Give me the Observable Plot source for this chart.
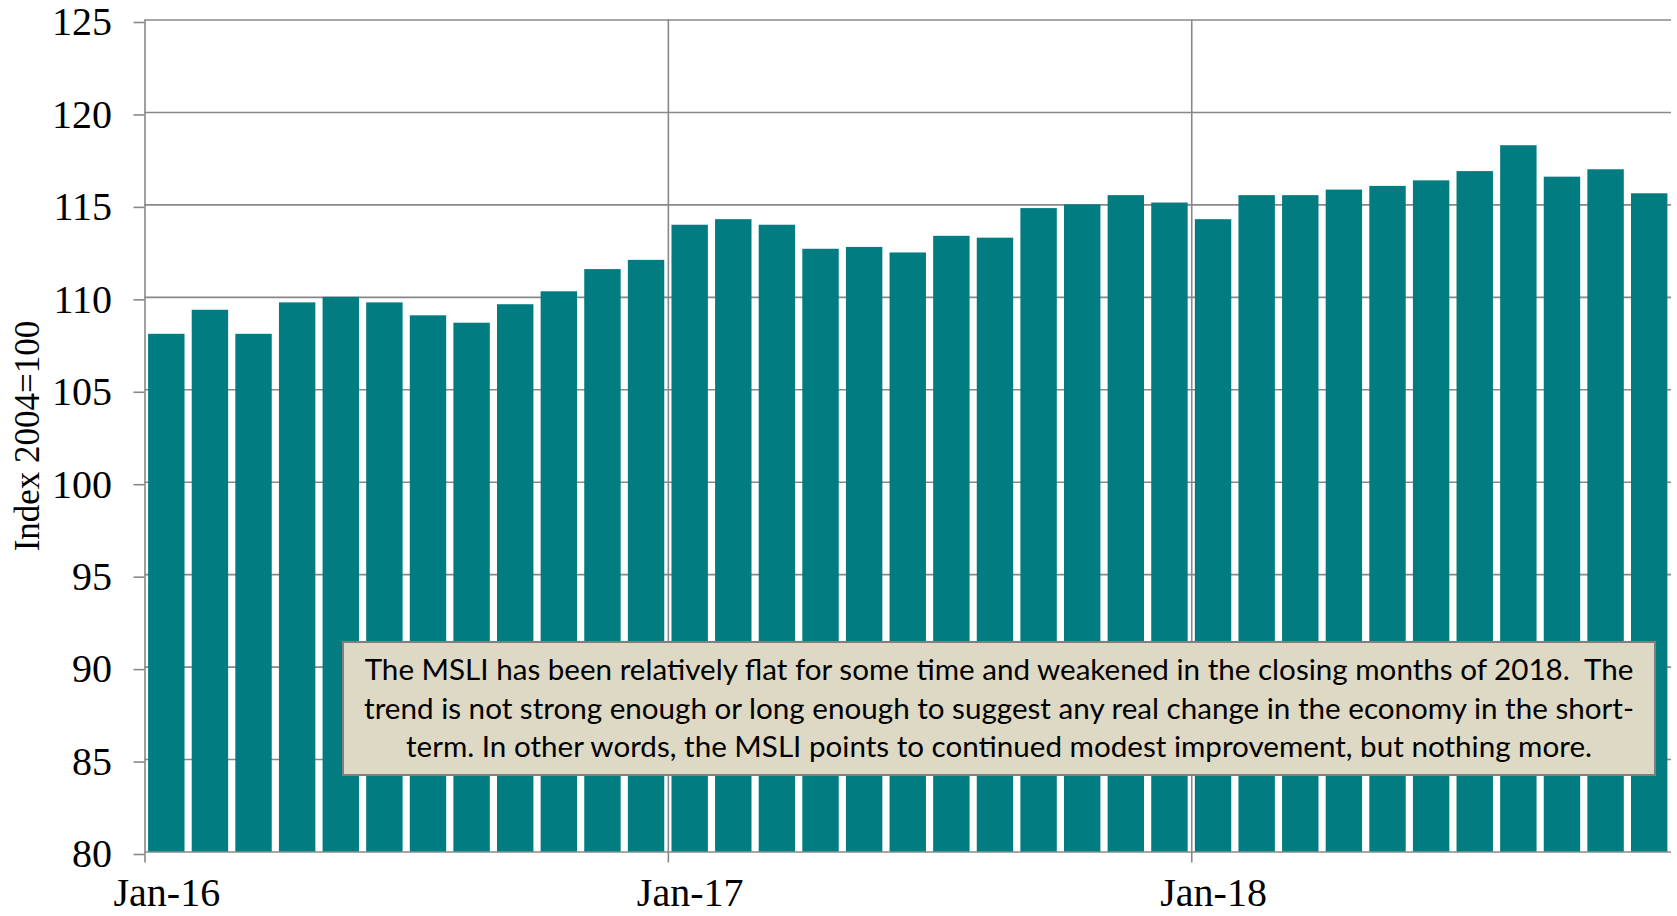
<!DOCTYPE html>
<html>
<head>
<meta charset="utf-8">
<script src="https://cdn.jsdelivr.net/npm/d3@7"></script>
<script src="https://cdn.jsdelivr.net/npm/@observablehq/plot@0.6"></script>
<style>
  html, body { margin: 0; padding: 0; background: #fff; }
  #wrap { position: relative; width: 1677px; height: 916px; overflow: hidden; }
  #note {
    position: absolute; left: 342px; top: 641px; width: 1314px; height: 135px;
    box-sizing: border-box; border: 2px solid #7f7f7f; background: #ddd9c4;
    font-family: Lato, "Noto Sans", sans-serif; font-size: 29.6px; line-height: 38.5px;
    color: #000; text-align: center; padding-top: 7px; white-space: nowrap;
  }
</style>
</head>
<body>
<div id="wrap"></div>
<script>
const months = [
  "Jan-16","Feb-16","Mar-16","Apr-16","May-16","Jun-16","Jul-16","Aug-16","Sep-16","Oct-16","Nov-16","Dec-16",
  "Jan-17","Feb-17","Mar-17","Apr-17","May-17","Jun-17","Jul-17","Aug-17","Sep-17","Oct-17","Nov-17","Dec-17",
  "Jan-18","Feb-18","Mar-18","Apr-18","May-18","Jun-18","Jul-18","Aug-18","Sep-18","Oct-18","Nov-18"
];
const values = [
  108.0, 109.3, 108.0, 109.7, 110.0, 109.7, 109.0, 108.6, 109.6, 110.3, 111.5, 112.0,
  113.9, 114.2, 113.9, 112.6, 112.7, 112.4, 113.3, 113.2, 114.8, 115.0, 115.5, 115.1,
  114.2, 115.5, 115.5, 115.8, 116.0, 116.3, 116.8, 118.2, 116.5, 116.9, 115.6
];
const yTicks = [80, 85, 90, 95, 100, 105, 110, 115, 120, 125];
const xTickMonths = ["Jan-16", "Jan-17", "Jan-18"];
const yLabel = "Index 2004=100";
const noteLines = [
  "The MSLI has been relatively flat for some time and weakened in the closing months of 2018.\u00a0 The",
  "trend is not strong enough or long enough to suggest any real change in the economy in the short-",
  "term. In other words, the MSLI points to continued modest improvement, but nothing more."
];

const data = months.map((m, i) => ({month: m, i, value: values[i]}));
const xTicks = xTickMonths.map(m => months.indexOf(m));
const xLabelPos = xTicks.map(i => i + 0.5);
const base = yTicks[0];

const serif = "'Liberation Serif', 'Times New Roman', serif";
const grid = "#888888";

const chart = Plot.plot({
  width: 1677,
  height: 916,
  marginLeft: 144.5,
  marginRight: 6,
  marginTop: 19.5,
  marginBottom: 64.5,
  style: {fontFamily: serif, background: "transparent", color: "#000"},
  x: {type: "linear", domain: [0, months.length]},
  y: {domain: [yTicks[0], yTicks[yTicks.length - 1]]},
  marks: [
    Plot.gridY(yTicks, {stroke: grid, strokeOpacity: 1, strokeWidth: 1.6}),
    Plot.gridX(xTicks, {stroke: grid, strokeOpacity: 1, strokeWidth: 1.6}),
    Plot.rectY(data, {
      x1: "i", x2: d => d.i + 1, y1: () => base, y2: "value",
      fill: "#017c80", insetLeft: 3.6, insetRight: 3.6
    }),
    Plot.axisY(yTicks, {
      tickSize: 11, tickPadding: 22, fontSize: 40, stroke: grid, strokeWidth: 1.6,
      fill: "#000", dy: 2.5, label: null
    }),
    Plot.axisX(xTicks, {
      tickSize: 11, stroke: grid, strokeWidth: 1.6, text: null, label: null
    }),
    Plot.axisX(xLabelPos, {
      tickSize: 0, tickPadding: 26, fontSize: 40, fill: "#000",
      tickFormat: v => months[Math.floor(v)], label: null
    }),
    Plot.text([yLabel], {
      frameAnchor: "left", textAnchor: "middle", rotate: -90, dx: -117, fontSize: 35,
      fill: "#000", fontFamily: serif
    })
  ]
});

const wrap = document.getElementById("wrap");
wrap.appendChild(chart);
const note = document.createElement("div");
note.id = "note";
noteLines.forEach(t => {
  const d = document.createElement("div");
  d.textContent = t;
  note.appendChild(d);
});
wrap.appendChild(note);
</script>
</body>
</html>
